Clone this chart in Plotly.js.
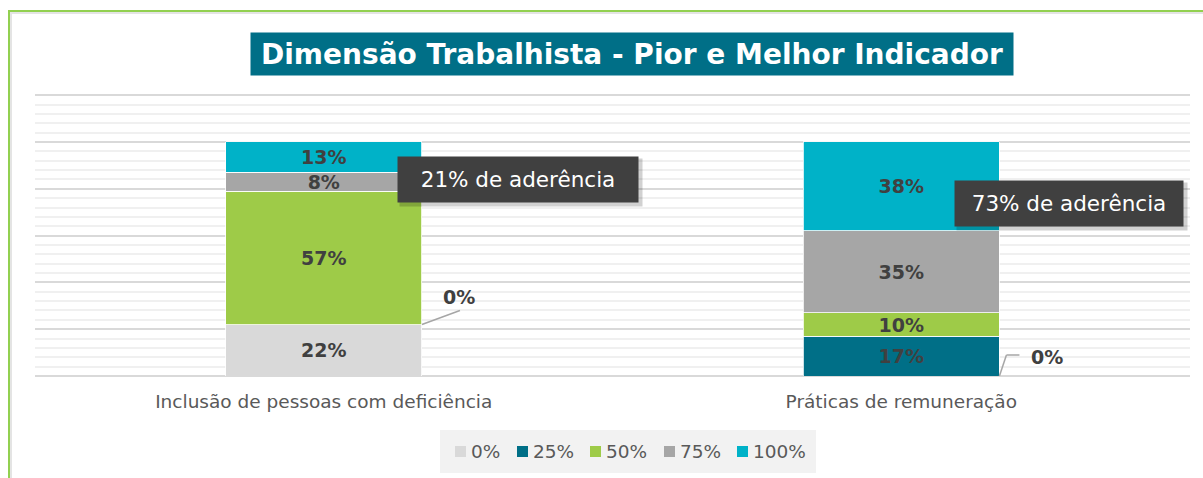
<!DOCTYPE html>
<html>
<head>
<meta charset="utf-8">
<script src="https://cdn.plot.ly/plotly-3.0.1.min.js"></script>
<style>
html,body{margin:0;padding:0;background:#fff;}
#wrap{position:relative;width:1203px;height:478px;overflow:hidden;}
#chart{position:absolute;left:0;top:0;width:1203px;height:478px;}
#frameTop{position:absolute;left:8px;top:10px;width:1195px;height:2px;background:#92d050;}
#frameTopShade{position:absolute;left:10px;top:12px;width:1193px;height:2px;background:#e4e4e4;}
#frameLeft{position:absolute;left:8px;top:10px;width:2px;height:468px;background:#92d050;}
#frameLeftShade{position:absolute;left:10px;top:12px;width:2px;height:466px;background:#e4e4e4;}
</style>
</head>
<body>
<div id="wrap">
<div id="chart"></div>
<div id="frameTopShade"></div>
<div id="frameLeftShade"></div>
<div id="frameTop"></div>
<div id="frameLeft"></div>
</div>
<script>
// ---- data ----
const categories = ["Inclusão de pessoas com deficiência", "Práticas de remuneração"];
const seriesNames = ["0%", "25%", "50%", "75%", "100%"];
const s0   = [22, 0];
const s25  = [0, 17];
const s50  = [57, 10];
const s75  = [8, 35];
const s100 = [13, 38];
const chartTitle = "Dimensão Trabalhista - Pior e Melhor Indicador";

// ---- styles ----
const seriesValues = [s0, s25, s50, s75, s100];
const colors = ["#d9d9d9", "#006f87", "#9ecb48", "#a6a6a6", "#00b2c8"];
const labelFont = {family: "DejaVu Sans", size: 19, color: "#404040", weight: "bold"};
const bargap = 0.66;
const halfBar = (1 - bargap) / 2;
const W = 1203, H = 478;
const M = {l: 35, r: 13, t: 94, b: 102};
const plotW = W - M.l - M.r, plotH = H - M.t - M.b;
const px2paperX = px => (px - M.l) / plotW;
const px2paperY = py => (H - M.b - py) / plotH;

const traces = seriesValues.map((vals, i) => ({
  type: "bar",
  name: seriesNames[i],
  x: categories,
  y: vals,
  text: vals.map(v => v > 0 ? "<b>" + v + "%</b>" : ""),
  textposition: "inside",
  insidetextanchor: "middle",
  textangle: 0,
  constraintext: "none",
  textfont: labelFont,
  marker: {color: colors[i], line: {color: "#ffffff", width: 0.8}},
  hoverinfo: "skip",
  showlegend: false
}));

const annotations = [];
const shapes = [];

// title box
annotations.push({
  xref: "paper", yref: "paper", x: px2paperX(632), y: px2paperY(54), xanchor: "center", yanchor: "middle",
  text: "<b>" + chartTitle + "</b>", showarrow: false,
  font: {family: "DejaVu Sans", size: 28, color: "#ffffff"},
  bgcolor: "#006f87", width: 756, height: 36, borderpad: 3
});

// zero-value labels with leader lines
const leader = [
  {cat: 0, series: 1, text: [37, 28], pts: [[0, 0], [38, 14]]},
  {cat: 1, series: 0, text: [48, 19.5], pts: [[0, 0], [7, 21], [20, 21]]}
];
leader.forEach(L => {
  const val = seriesValues[L.series][L.cat];
  let base = 0;
  for (let k = 0; k < L.series; k++) base += seriesValues[k][L.cat];
  const ax = L.cat + halfBar;
  const ay = base + val;
  for (let p = 0; p < L.pts.length - 1; p++) {
    shapes.push({
      type: "line", xref: "x", yref: "y",
      xsizemode: "pixel", ysizemode: "pixel", xanchor: ax, yanchor: ay,
      x0: L.pts[p][0], y0: L.pts[p][1], x1: L.pts[p + 1][0], y1: L.pts[p + 1][1],
      line: {color: "#a6a6a6", width: 1.5}
    });
  }
  annotations.push({
    xref: "x", yref: "y", x: ax, y: ay, xshift: L.text[0], yshift: L.text[1],
    text: "<b>" + val + "%</b>", showarrow: false, font: labelFont
  });
});

// adherence boxes (75% + 100%)
const adherence = categories.map((c, i) => s75[i] + s100[i]);
const boxPos = [
  {xshift: 194, y: 83.9, w: 240},
  {xshift: 167.5, y: 73.7, w: 228}
];
categories.forEach((c, i) => {
  const b = boxPos[i];
  annotations.push({
    xref: "x", yref: "y", x: i, y: b.y, xshift: b.xshift + 3, yshift: -3,
    text: "", showarrow: false, bgcolor: "rgba(0,0,0,0.18)",
    width: b.w + 2, height: 47, borderpad: 0
  });
  annotations.push({
    xref: "x", yref: "y", x: i, y: b.y, xshift: b.xshift, yshift: 0,
    text: adherence[i] + "% de aderência", showarrow: false,
    font: {family: "DejaVu Sans", size: 21.5, color: "#ffffff"},
    bgcolor: "#404040", width: b.w, height: 45, borderpad: 0
  });
});

// legend (drawn manually to match the original spacing)
const legendBox = {x0: 440, x1: 816, y0: 430, y1: 473};
const legendSquareX = [455, 517, 590, 664, 737];
const legendMidY = 451.5;
shapes.push({
  type: "rect", xref: "paper", yref: "paper", layer: "below",
  x0: px2paperX(legendBox.x0), x1: px2paperX(legendBox.x1),
  y0: px2paperY(legendBox.y1), y1: px2paperY(legendBox.y0),
  fillcolor: "#f2f2f2", line: {width: 0}
});
seriesNames.forEach((n, i) => {
  const sx = legendSquareX[i];
  shapes.push({
    type: "rect", xref: "paper", yref: "paper",
    x0: px2paperX(sx), x1: px2paperX(sx + 11),
    y0: px2paperY(legendMidY + 5.5), y1: px2paperY(legendMidY - 5.5),
    fillcolor: colors[i], line: {width: 0}
  });
  annotations.push({
    xref: "paper", yref: "paper", x: px2paperX(sx + 14), y: px2paperY(legendMidY),
    xanchor: "left", yanchor: "middle", showarrow: false, text: n,
    font: {family: "DejaVu Sans", size: 18.5, color: "#595959"}
  });
});

const layout = {
  width: W, height: H,
  margin: M,
  paper_bgcolor: "#ffffff", plot_bgcolor: "#ffffff",
  barmode: "stack", bargap: bargap,
  showlegend: false,
  xaxis: {
    type: "category", showgrid: false, zeroline: false, showline: false,
    ticks: "", tickfont: {family: "DejaVu Sans", size: 18.5, color: "#595959"},
    ticklabelstandoff: 12
  },
  yaxis: {
    range: [0, 120.5], tickvals: [0, 20, 40, 60, 80, 100, 120], showticklabels: false, ticks: "",
    showgrid: true, gridcolor: "#d9d9d9", gridwidth: 2,
    zeroline: true, zerolinecolor: "#d9d9d9", zerolinewidth: 2, showline: false,
    minor: {dtick: 4, showgrid: true, gridcolor: "#f0f0f0", gridwidth: 2}
  },
  annotations: annotations,
  shapes: shapes,
  font: {family: "DejaVu Sans"}
};

Plotly.newPlot("chart", traces, layout, {displayModeBar: false, staticPlot: true});
</script>
</body>
</html>
